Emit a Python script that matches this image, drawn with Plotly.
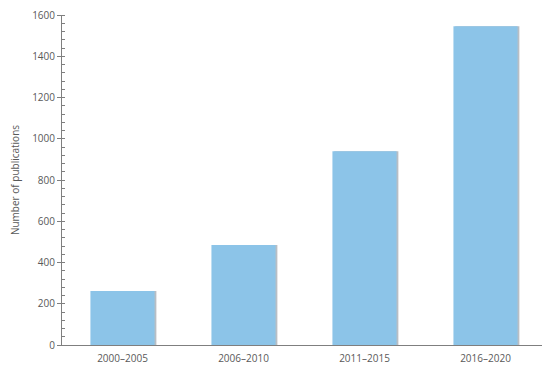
import plotly.graph_objects as go

periods = ['2000–2005', '2006–2010', '2011–2015', '2016–2020']
publications = [262, 485, 940, 1545]

bar_color = '#8cc4e8'
text_color = '#595959'

fig = go.Figure()
# soft shadow behind the bars
fig.add_trace(go.Bar(x=periods, y=publications, width=0.53, offset=-0.25,
                     marker=dict(color='#b8bec4', line=dict(width=0)),
                     hoverinfo='skip', showlegend=False))
fig.add_trace(go.Bar(x=periods, y=publications, width=0.53, offset=-0.265,
                     marker=dict(color=bar_color, line=dict(width=0)),
                     showlegend=False))

# page adds 8px body margin, so the figure is sized to fit inside the window
fig.update_layout(
    width=542, height=361,
    margin=dict(l=54, r=4, t=7, b=24),
    plot_bgcolor='white', paper_bgcolor='white',
    barmode='overlay',
    font=dict(family='Open Sans', size=10, color=text_color),
)
fig.update_xaxes(showline=True, linecolor='#7f7f7f', linewidth=1,
                 ticks='', showgrid=False, automargin=False, ticklabelstandoff=4)
fig.update_yaxes(range=[0, 1600], dtick=200, showline=True, linecolor='#7f7f7f',
                 linewidth=1, ticks='outside', ticklen=4, tickcolor='#7f7f7f',
                 showgrid=False, zeroline=False, automargin=False,
                 ticklabeloverflow='allow',
                 minor=dict(dtick=40, ticks='inside', ticklen=3, tickcolor='#7f7f7f'),
                 title=dict(text='Number of publications', font=dict(size=10), standoff=10))

fig.write_html("out.html")
